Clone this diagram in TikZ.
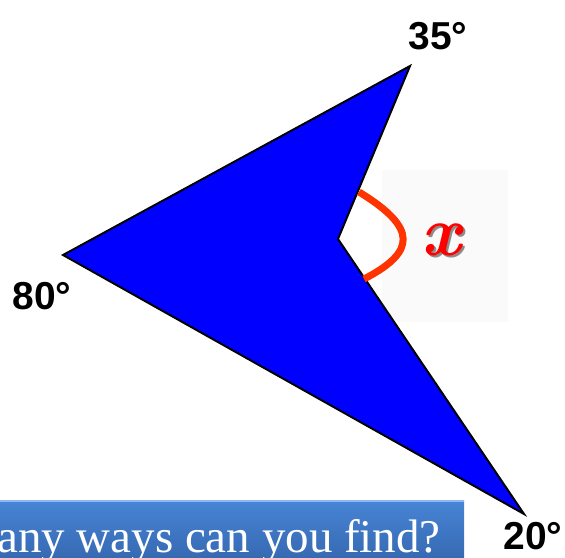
\documentclass[tikz,border=0pt]{standalone}
\usepackage{fontspec}
\setmainfont{Liberation Serif}
\newfontfamily\labelfont{Liberation Sans}
\newfontfamily\unknownfont{Latin Modern Roman}
\definecolor{DartBlue}{HTML}{0000FF}
\definecolor{ArcRed}{HTML}{FF3300}
\definecolor{BoxTop}{HTML}{4785D6}
\definecolor{BoxBottom}{HTML}{3566AE}
\definecolor{BoxEdge}{HTML}{8DB8F0}
\definecolor{PanelGrey}{HTML}{FAFAFA}
\begin{document}
\begin{tikzpicture}[x=0.025cm,y=-0.025cm,every node/.style={inner sep=0pt},angle/.style={font=\labelfont\bfseries\fontsize{27.7}{30}\selectfont},unknown/.style={font=\unknownfont\bfseries\itshape\fontsize{50}{52}\selectfont}]
\useasboundingbox(0,0)rectangle(565,558);
\fill[PanelGrey](382,170)rectangle(508,322);
\coordinate(top)at(410,66);\coordinate(left)at(63,255);\coordinate(tip)at(524,514);\coordinate(dent)at(338,239);
\draw[line width=1.4pt,fill=DartBlue,line join=miter](top)--(left)--(tip)--(dent)--cycle;
\draw[ArcRed,line width=5pt](359,192)..controls(418,228)and(416,252)..(364,279);
\node[unknown,text=black!45](xshadow)at(443,242){x};\node[unknown,text=red](xlab)at(441,240){x};
\node[angle](a35)at(438,36){35°};\node[angle](a80)at(42,296){80°};\node[angle](a20)at(533,536){20°};
\shade[top color=BoxTop,bottom color=BoxBottom](-5,500)rectangle(464,565);\draw[BoxEdge,line width=1pt](-5,501)--(464,501);
\node[anchor=base east,text=white,font=\fontsize{33.4}{36}\selectfont](ask)at(441,552){any ways can you find?};
\end{tikzpicture}
\end{document}
